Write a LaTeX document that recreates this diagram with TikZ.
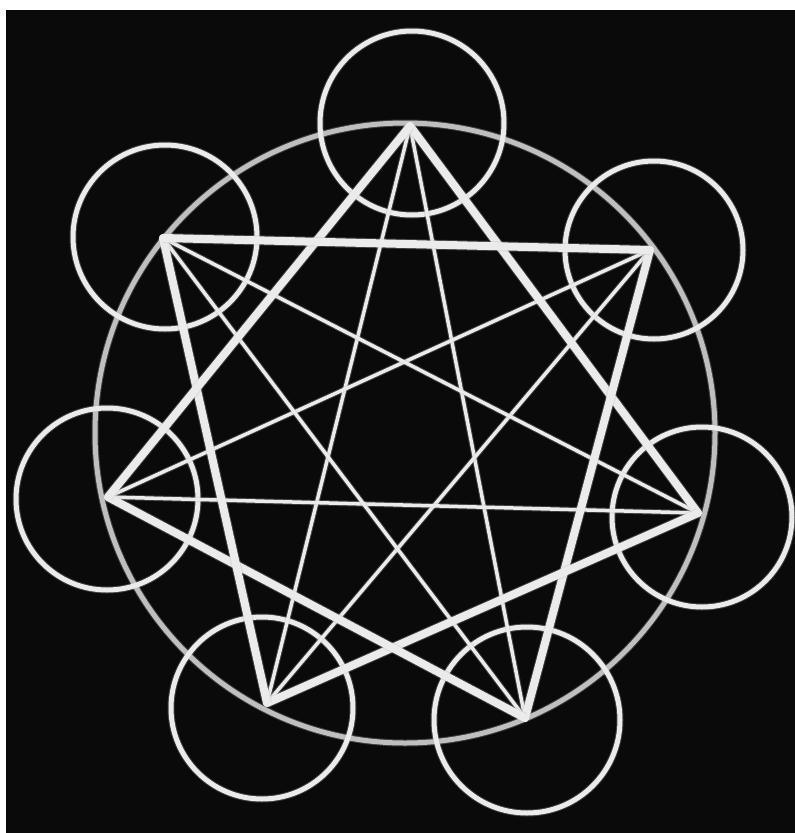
\documentclass[tikz,border=0pt]{standalone}
\begin{document}
\begin{tikzpicture}[x=1pt,y=-1pt,
  chalk/.style={draw=white!92!black, line cap=round, line join=round,
    preaction={draw=white!70!black, opacity=0.3, line width=#1+2pt}, line width=#1},
  chalk/.default=5pt,
  thickln/.style={chalk=8pt},
  thinln/.style={chalk=3.5pt},
  ring/.style={chalk=5pt},
  bigring/.style={chalk=5pt, draw=white!75!black}]
\useasboundingbox (0,0) rectangle (795,833);
\fill[white] (0,0) rectangle (795,833);
\fill[black!96] (6,10) rectangle (795,833);
% vertices
\coordinate (v0) at (410,126);
\coordinate (v1) at (650,250);
\coordinate (v2) at (698,513);
\coordinate (v3) at (525,718);
\coordinate (v4) at (267,703);
\coordinate (v5) at (108,497);
\coordinate (v6) at (163,238);
% circle centres
\coordinate (c0) at (412,123);
\coordinate (c1) at (654,250);
\coordinate (c2) at (702,517);
\coordinate (c3) at (527,720);
\coordinate (c4) at (262,708);
\coordinate (c5) at (107,499);
\coordinate (c6) at (165,237);
\coordinate (cc) at (405,433);
% big circle
\draw[bigring] (cc) circle (310);
% small circles
\draw[ring] (c0) circle (92);
\draw[ring] (c1) circle (89);
\draw[ring] (c2) circle (90);
\draw[ring] (c3) circle (93);
\draw[ring] (c4) circle (91);
\draw[ring] (c5) circle (91);
\draw[ring] (c6) circle (92);
% thin lines {7/3}
\draw[thinln] (v0) -- (v3);
\draw[thinln] (v0) -- (v4);
\draw[thinln] (v1) -- (v4);
\draw[thinln] (v1) -- (v5);
\draw[thinln] (v2) -- (v5);
\draw[thinln] (v2) -- (v6);
\draw[thinln] (v3) -- (v6);
% thick lines {7/2}
\draw[thickln] (v0) -- (v2);
\draw[thickln] (v1) -- (v3);
\draw[thickln] (v2) -- (v4);
\draw[thickln] (v3) -- (v5);
\draw[thickln] (v4) -- (v6);
\draw[thickln] (v5) -- (v0);
\draw[thickln] (v6) -- (v1);
\end{tikzpicture}
\end{document}
